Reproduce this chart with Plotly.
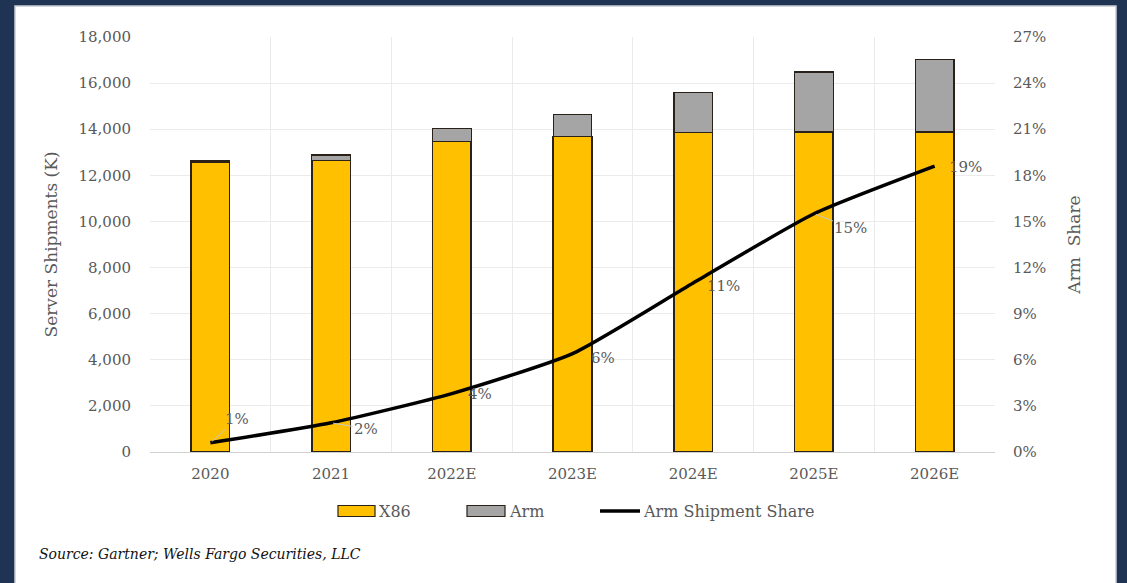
import plotly.graph_objects as go

categories = ["2020", "2021", "2022E", "2023E", "2024E", "2025E", "2026E"]
x86_values = [12580, 12640, 13480, 13680, 13870, 13880, 13890]
arm_values = [75, 245, 560, 960, 1710, 2600, 3150]
arm_share = [0.6, 1.9, 3.8, 6.4, 11.0, 15.5, 18.6]
share_labels = ["1%", "2%", "4%", "6%", "11%", "15%", "19%"]
left_ticks = list(range(0, 18001, 2000))
right_ticks = list(range(0, 28, 3))

FONT = "DejaVu Serif"
GRAY_TXT = "#595959"

W, H = 1127, 583
L, R, T, B = 150, 995, 37, 452  # plot area in pixels


def px(xp):
    return (xp - L) / (R - L)


def py(yp):
    return (B - yp) / (B - T)


fig = go.Figure()
fig.add_trace(go.Bar(
    x=categories, y=x86_values, name="X86",
    marker=dict(color="#FFC000", line=dict(color="#2a2118", width=1.5)),
    yaxis="y",
))
fig.add_trace(go.Bar(
    x=categories, y=arm_values, name="Arm",
    marker=dict(color="#A5A5A5", line=dict(color="#2a2118", width=1.2)),
    yaxis="y",
))
fig.add_trace(go.Scatter(
    x=categories, y=arm_share, name="Arm Shipment Share",
    mode="lines", line=dict(color="#000000", width=3.5, shape="spline", smoothing=0.55),
    yaxis="y2",
))

# data labels (offsets are styling only)
label_offsets = [(27, -24, True), (35, 6, True), (28, 0, False), (30, 4, False),
                 (30, 3, False), (37, 14, True), (31, 1, False)]
for i, (val, txt, (ax, ay, arrow)) in enumerate(zip(arm_share, share_labels, label_offsets)):
    fig.add_annotation(
        x=i, y=val, xref="x", yref="y2", text=txt,
        showarrow=True, arrowhead=0, arrowwidth=1,
        arrowcolor="#c8c8c8" if arrow else "rgba(0,0,0,0)",
        ax=ax, ay=ay, standoff=2,
        font=dict(family=FONT, size=15, color=GRAY_TXT),
    )

shapes = [
    dict(type="rect", xref="paper", yref="paper", layer="below",
         x0=px(15), x1=px(1116), y0=py(6), y1=py(600),
         fillcolor="white", line=dict(color="#c8ccd2", width=1.5)),
]

# legend drawn manually
leg_y = 511
shapes.append(dict(type="rect", xref="paper", yref="paper",
                   x0=px(338), x1=px(375), y0=py(516.5), y1=py(505.5),
                   fillcolor="#FFC000", line=dict(color="#2a2118", width=1.2)))
shapes.append(dict(type="rect", xref="paper", yref="paper",
                   x0=px(467), x1=px(505), y0=py(516.5), y1=py(505.5),
                   fillcolor="#A5A5A5", line=dict(color="#2a2118", width=1.2)))
shapes.append(dict(type="line", xref="paper", yref="paper",
                   x0=px(600), x1=px(640), y0=py(leg_y), y1=py(leg_y),
                   line=dict(color="#000000", width=3.5)))
for xpos, txt in [(377, "X86"), (507, "Arm"), (641, "Arm Shipment Share")]:
    fig.add_annotation(x=px(xpos), y=py(leg_y), xref="paper", yref="paper",
                       text=txt, showarrow=False, xanchor="left", yanchor="middle",
                       font=dict(family=FONT, size=16, color=GRAY_TXT))

fig.add_annotation(x=px(37), y=py(554), xref="paper", yref="paper",
                   text="<i>Source: Gartner; Wells Fargo Securities, LLC</i>",
                   showarrow=False, xanchor="left", yanchor="middle",
                   font=dict(family=FONT, size=14, color="#111111"))

fig.update_layout(
    width=W, height=H,
    margin=dict(l=L, r=W - R, t=T, b=H - B, pad=0),
    paper_bgcolor="#1f3452",
    plot_bgcolor="white",
    barmode="stack",
    bargap=0.68,
    showlegend=False,
    shapes=shapes,
    font=dict(family=FONT, size=15, color=GRAY_TXT),
    xaxis=dict(
        type="category", range=[-0.5, len(categories) - 0.5],
        tickson="boundaries", showgrid=True, gridcolor="#ebebeb",
        gridwidth=1, showline=True, linecolor="#d0d0d0", linewidth=1,
        ticks="", ticklabelstandoff=8,
        tickfont=dict(family=FONT, size=15, color=GRAY_TXT),
    ),
    yaxis=dict(
        range=[0, 18000], tickvals=left_ticks, tickformat=",",
        showgrid=True, gridcolor="#ebebeb", gridwidth=1, zeroline=False,
        ticks="", ticklabelstandoff=18,
        tickfont=dict(family=FONT, size=15, color=GRAY_TXT),
        title=dict(text="Server Shipments (K)", standoff=16,
                   font=dict(family=FONT, size=17, color=GRAY_TXT)),
    ),
    yaxis2=dict(
        range=[0, 27], tickvals=right_ticks,
        ticktext=[f"{v}%" for v in right_ticks],
        overlaying="y", side="right", showgrid=False, zeroline=False,
        ticks="", ticklabelstandoff=17,
        tickfont=dict(family=FONT, size=15, color=GRAY_TXT),
        title=dict(text="Arm  Share", standoff=22,
                   font=dict(family=FONT, size=17, color=GRAY_TXT)),
    ),
)

fig.write_html("out.html")
